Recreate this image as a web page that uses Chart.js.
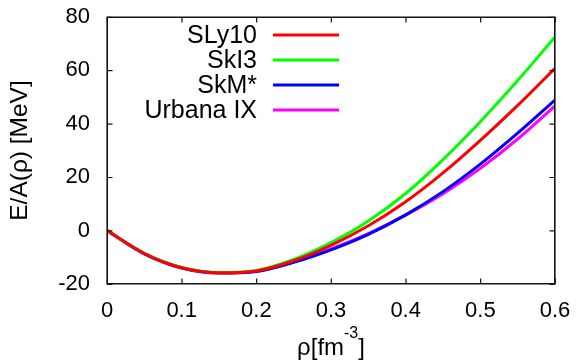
<!DOCTYPE html>
<html>
<head>
<meta charset="utf-8">
<script src="https://cdn.jsdelivr.net/npm/chart.js"></script>
<style>
  html, body { margin: 0; padding: 0; background: #fff; }
  canvas { display: block; }
</style>
</head>
<body>
<canvas id="eos" width="578" height="364"></canvas>
<script>
// density grid [fm^-3]
var rho = [0, 0.05, 0.1, 0.15, 0.2, 0.25, 0.3, 0.35, 0.4, 0.45, 0.5, 0.55, 0.6];
// E/A [MeV]
var sly10   = [0, -8.6, -13.9, -15.8, -15.1, -11.3, -5.5, 1.8, 10.8, 21.6, 33.8, 46.9, 60.8];
var ski3    = [0, -8.5, -13.8, -15.7, -14.9, -10.8, -4.5, 3.6, 13.9, 26.6, 40.8, 56.2, 72.5];
var skmstar = [0, -8.7, -14.0, -15.9, -15.3, -11.9, -7.2, -1.4, 5.9, 14.6, 24.9, 36.5, 48.9];
var urbana  = [0, -8.6, -13.9, -15.8, -15.2, -11.7, -6.9, -1.1, 5.8, 13.8, 23.3, 34.3, 46.7];

var names  = ["SLy10", "SkI3", "SkM*", "Urbana IX"];
var colors = ["#ff0000", "#00ff00", "#0000ff", "#ff00ff"];
var xTicks = [0, 0.1, 0.2, 0.3, 0.4, 0.5, 0.6];
var yTicks = [-20, 0, 20, 40, 60, 80];

var FONT = "'Liberation Sans', Arial, sans-serif";

function pts(ys) {
    return rho.map(function (r, i) { return { x: r, y: ys[i] }; });
}

var datasets = [sly10, ski3, skmstar, urbana].map(function (ys, i) {
    return {
        label: names[i],
        data: pts(ys),
        borderColor: colors[i],
        borderWidth: 3,
        pointRadius: 0,
        fill: false,
        cubicInterpolationMode: "monotone"
    };
});

function fixedTicks(list) {
    return function (s) { s.ticks = list.map(function (v) { return { value: v }; }); };
}

// gnuplot look: box, inward ticks, key, x label with superscript
var gnuFrame = {
    id: "gnuFrame",
    afterDraw: function (chart) {
        var ctx = chart.ctx, a = chart.chartArea;
        var sx = chart.scales.x, sy = chart.scales.y;
        var L = a.left, R = a.right, T = a.top, B = a.bottom;
        ctx.save();

        // border
        ctx.strokeStyle = "rgb(20,20,20)";
        ctx.lineWidth = 1.6;
        ctx.beginPath();
        ctx.moveTo(L + 0.2, T + 0.2);
        ctx.lineTo(R - 0.2, T + 0.2);
        ctx.lineTo(R - 0.2, B - 0.2);
        ctx.lineTo(L + 0.2, B - 0.2);
        ctx.closePath();
        ctx.stroke();

        // inward ticks on all four sides
        ctx.lineWidth = 1.2;
        ctx.beginPath();
        xTicks.forEach(function (v) {
            var px = sx.getPixelForValue(v) + 0.3;
            ctx.moveTo(px, B); ctx.lineTo(px, B - 5.5);
            ctx.moveTo(px, T); ctx.lineTo(px, T + 5.5);
        });
        yTicks.forEach(function (v) {
            var py = sy.getPixelForValue(v) + 0.3;
            ctx.moveTo(L, py); ctx.lineTo(L + 5.5, py);
            ctx.moveTo(R, py); ctx.lineTo(R - 5.5, py);
        });
        ctx.stroke();

        // key
        ctx.font = "25px " + FONT;
        ctx.textAlign = "right";
        ctx.textBaseline = "middle";
        chart.data.datasets.forEach(function (ds, i) {
            var y = 35 + i * 25;
            ctx.fillStyle = "#000";
            ctx.fillText(ds.label, 257, y + 1);
            ctx.fillStyle = ds.borderColor;
            ctx.fillRect(273, y - 1.5, 66, 3);
        });

        // x label
        var cx = (L + R) / 2;
        var big = "24px " + FONT, small = "16px " + FONT;
        ctx.textAlign = "left";
        ctx.textBaseline = "alphabetic";
        ctx.fillStyle = "#000";
        ctx.font = big;
        var w1 = ctx.measureText("ρ[fm").width, w3 = ctx.measureText("]").width;
        ctx.font = small;
        var w2 = ctx.measureText("-3").width;
        var x0 = cx - (w1 + w2 + w3) / 2;
        ctx.font = big;
        ctx.fillText("ρ[fm", x0, 355);
        ctx.font = small;
        ctx.fillText("-3", x0 + w1, 338);
        ctx.font = big;
        ctx.fillText("]", x0 + w1 + w2, 355);
        ctx.restore();
    }
};

new Chart(document.getElementById("eos"), {
    type: "line",
    data: { datasets: datasets },
    plugins: [gnuFrame],
    options: {
        responsive: false,
        animation: false,
        devicePixelRatio: 1,
        layout: { padding: { left: 0, right: 23, top: 17, bottom: 0 } },
        plugins: { legend: { display: false }, tooltip: { enabled: false } },
        scales: {
            x: {
                type: "linear",
                min: 0,
                max: 0.6,
                grid: { display: false, drawTicks: false },
                border: { display: false },
                afterBuildTicks: fixedTicks(xTicks),
                afterFit: function (s) {
                    s.height = 80;
                    s.paddingLeft = 0;
                    s.paddingRight = 0;
                },
                ticks: {
                    color: "#000",
                    padding: 14,
                    maxRotation: 0,
                    font: { family: FONT, size: 22 },
                    callback: function (v) { return v === 0 ? "0" : v.toFixed(1); }
                }
            },
            y: {
                min: -20,
                max: 80,
                grid: { display: false, drawTicks: false },
                border: { display: false },
                afterBuildTicks: fixedTicks(yTicks),
                afterFit: function (s) {
                    s.width = 107;
                    s.paddingTop = 0;
                    s.paddingBottom = 0;
                },
                ticks: {
                    color: "#000",
                    padding: 17,
                    font: { family: FONT, size: 22 }
                },
                title: {
                    display: true,
                    text: "E/A(ρ) [MeV]",
                    color: "#000",
                    font: { family: FONT, size: 24.5 },
                    padding: { top: 6, bottom: 0 }
                }
            }
        }
    }
});
</script>
</body>
</html>
